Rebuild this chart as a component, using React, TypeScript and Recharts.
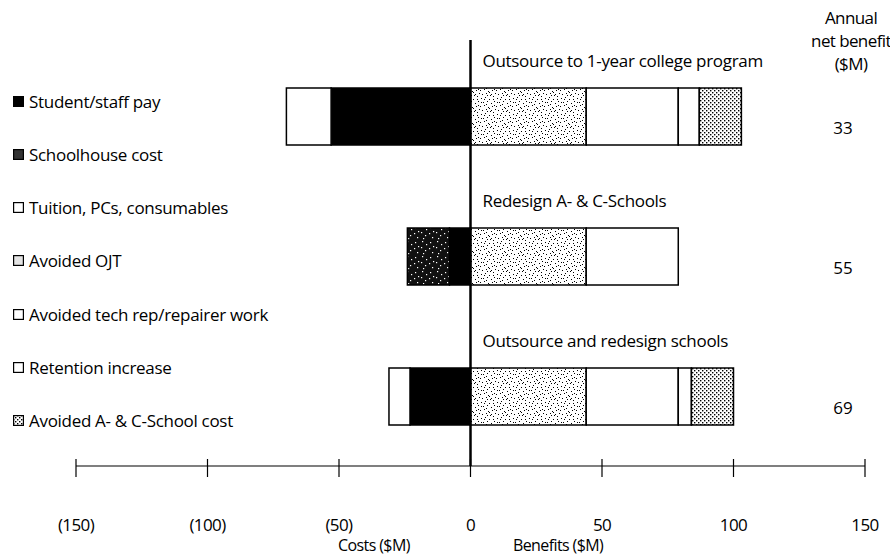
import React from 'react';
import { BarChart, Bar, XAxis, YAxis, ReferenceLine, LabelList } from 'recharts';

const categories = [
  'Outsource to 1-year college program',
  'Redesign A- & C-Schools',
  'Outsource and redesign schools',
];
// costs are negative, benefits positive ($M per year)
const studentPay = [-53, -8, -23];
const schoolhouseCost = [0, -16, 0];
const tuition = [-17, 0, -8];
const avoidedOjt = [44, 44, 44];
const avoidedTechRep = [35, 35, 35];
const retention = [8, 0, 5];
const avoidedSchool = [16, 0, 16];
const netBenefit = [33, 55, 69];
const xTicks = [-150, -100, -50, 0, 50, 100, 150];

const legendItems = [
  { label: 'Student/staff pay', swatch: '#000' },
  { label: 'Schoolhouse cost', swatch: '#333' },
  { label: 'Tuition, PCs, consumables', swatch: '#fff' },
  { label: 'Avoided OJT', swatch: '#e4e4e4' },
  { label: 'Avoided tech rep/repairer work', swatch: '#fff' },
  { label: 'Retention increase', swatch: '#fff' },
  { label: 'Avoided A- & C-School cost', swatch: 'url(#dotPat)' },
];

const data = categories.map((name, i) => ({
  name,
  studentPay: studentPay[i],
  schoolhouseCost: schoolhouseCost[i],
  tuition: tuition[i],
  avoidedOjt: avoidedOjt[i],
  avoidedTechRep: avoidedTechRep[i],
  retention: retention[i],
  avoidedSchool: avoidedSchool[i],
  net: netBenefit[i],
}));

const FONT = '"Open Sans", sans-serif';
const FS = 17;

const fmt = (v: number) => (v < 0 ? `(${Math.abs(v)})` : `${v}`);

const AxisTick = (props: any) => {
  const { x, y, payload } = props;
  return (
    <g>
      <line x1={x} x2={x} y1={y - 9} y2={y + 9} stroke="#000" strokeWidth={1.2} />
      <text x={x} y={y + 63} textAnchor="middle" fontFamily={FONT} fontSize={FS} fill="#000" letterSpacing={-0.6}>
        {fmt(payload.value)}
      </text>
    </g>
  );
};

// dots for the stipple patterns
const ojtDots = [
  [1, 2], [5, 1], [9, 3], [13, 0], [3, 6], [7, 5], [11, 7], [14, 5],
  [0, 10], [4, 9], [8, 11], [12, 10], [2, 14], [6, 13], [10, 15], [15, 13],
  [6, 8], [13, 3], [9, 12], [1, 6], [4, 3], [11, 14], [14, 9], [7, 15],
];
const schoolSpecks = [
  [2, 1], [6, 4], [10, 2], [1, 7], [5, 10], [9, 8], [12, 12], [3, 13], [13, 6],
];

const App = () => (
  <div style={{ position: 'absolute', left: 0, top: 0, width: 890, height: 556, background: '#fff', fontFamily: FONT, overflow: 'hidden' }}>
    <svg width={0} height={0} style={{ position: 'absolute' }}>
      <defs>
        <pattern id="dotPat" width={4} height={4} patternUnits="userSpaceOnUse">
          <rect width={4} height={4} fill="#fff" />
          <rect x={0} y={0} width={1.4} height={1.4} fill="#000" />
          <rect x={2} y={2} width={1.4} height={1.4} fill="#000" />
        </pattern>
      </defs>
    </svg>
    <BarChart
      width={890}
      height={556}
      data={data}
      layout="vertical"
      stackOffset="sign"
      barSize={57}
      margin={{ top: 40, right: 25, bottom: 0, left: 76 }}
    >
      <defs>
        <pattern id="ojtPat" width={16} height={16} patternUnits="userSpaceOnUse">
          <rect width={16} height={16} fill="#fff" />
          {ojtDots.map(([dx, dy], i) => (
            <rect key={i} x={dx} y={dy} width={1} height={1} fill="#000" />
          ))}
        </pattern>
        <pattern id="schoolPat" width={15} height={15} patternUnits="userSpaceOnUse">
          <rect width={15} height={15} fill="#111" />
          {schoolSpecks.map(([dx, dy], i) => (
            <rect key={i} x={dx} y={dy} width={1.2} height={1.2} fill="#fff" />
          ))}
        </pattern>
      </defs>
      <XAxis
        type="number"
        domain={[-150, 150]}
        ticks={xTicks}
        height={90}
        tickLine={false}
        tickSize={0}
        tick={<AxisTick />}
        axisLine={{ stroke: '#000', strokeWidth: 1.2 }}
        interval={0}
      />
      <YAxis type="category" dataKey="name" hide padding={{ top: 6, bottom: 0 }} />
      <Bar dataKey="studentPay" stackId="s" fill="#000" stroke="#000" strokeWidth={1.5} isAnimationActive={false} />
      <Bar dataKey="schoolhouseCost" stackId="s" fill="url(#schoolPat)" stroke="#000" strokeWidth={1.5} isAnimationActive={false} />
      <Bar dataKey="tuition" stackId="s" fill="#fff" stroke="#000" strokeWidth={1.5} isAnimationActive={false} />
      <Bar dataKey="avoidedOjt" stackId="s" fill="url(#ojtPat)" stroke="#000" strokeWidth={1.5} isAnimationActive={false}>
        <LabelList
          dataKey="name"
          content={(p: any) => (
            <text x={p.x + 12} y={p.y - 21} fontFamily={FONT} fontSize={FS} fill="#000" letterSpacing={-0.3}>
              {p.value}
            </text>
          )}
        />
        <LabelList
          dataKey="net"
          content={(p: any) => (
            <text x={843} y={p.y + p.height / 2 + 17} textAnchor="middle" fontFamily={FONT} fontSize={FS} fill="#000">
              {p.value}
            </text>
          )}
        />
      </Bar>
      <Bar dataKey="avoidedTechRep" stackId="s" fill="#fff" stroke="#000" strokeWidth={1.5} isAnimationActive={false} />
      <Bar dataKey="retention" stackId="s" fill="#fff" stroke="#000" strokeWidth={1.5} isAnimationActive={false} />
      <Bar dataKey="avoidedSchool" stackId="s" fill="url(#dotPat)" stroke="#000" strokeWidth={1.5} isAnimationActive={false} />
      <ReferenceLine x={0} stroke="#000" strokeWidth={2.5} ifOverflow="visible" />
    </BarChart>

    {legendItems.map((item, i) => (
      <div
        key={item.label}
        style={{ position: 'absolute', left: 13, top: 90 + i * 53.3, height: 22, display: 'flex', alignItems: 'center', fontSize: FS, letterSpacing: -0.3, whiteSpace: 'nowrap' }}
      >
        <svg width={11} height={11} style={{ marginRight: 5 }}>
          <rect x={0.6} y={0.6} width={9.8} height={9.8} fill={item.swatch} stroke="#000" strokeWidth={1.2} />
        </svg>
        {item.label}
      </div>
    ))}

    <div style={{ position: 'absolute', left: 805, top: 6, width: 92, textAlign: 'center', fontSize: FS, lineHeight: '23px', letterSpacing: -0.6 }}>
      Annual<br />net benefit<br />($M)
    </div>

    <div style={{ position: 'absolute', left: 338, top: 537, fontSize: 16, lineHeight: '17px', letterSpacing: -0.6 }}>Costs ($M)</div>
    <div style={{ position: 'absolute', left: 513, top: 537, fontSize: 16, lineHeight: '17px', letterSpacing: -0.6 }}>Benefits ($M)</div>
  </div>
);

export default App;
